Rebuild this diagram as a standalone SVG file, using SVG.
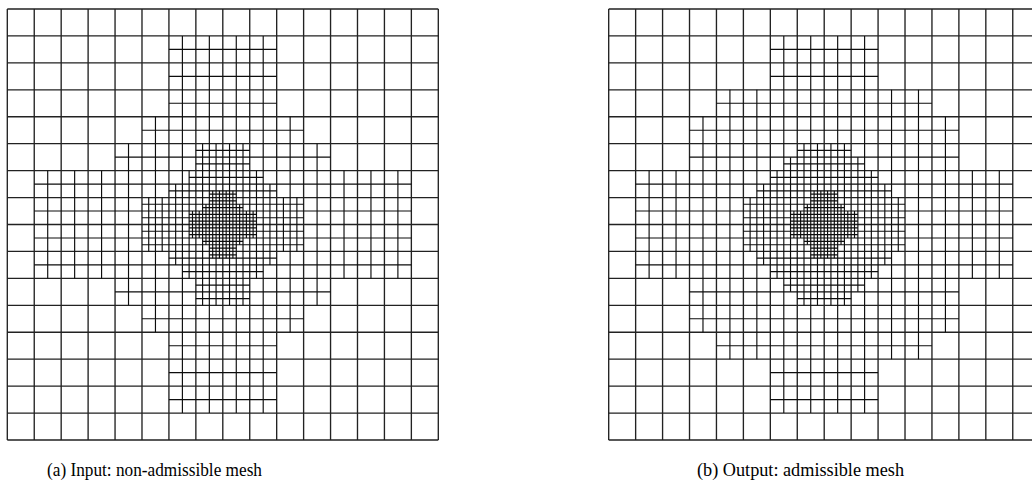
<svg xmlns="http://www.w3.org/2000/svg" width="1032" height="486" viewBox="0 0 1032 486">
<style>
.m{fill:none;stroke:#0d0d0d;stroke-width:1.15;vector-effect:non-scaling-stroke}
.b{stroke:#222;stroke-width:1.35}
text{font-family:"Liberation Serif","Times New Roman",serif;font-size:18px;fill:#000}
</style>
<defs>
<path id="L0" class="m b" d="M0 0V128M8 0V128M16 0V128M24 0V128M32 0V128M40 0V128M48 0V128M56 0V128M64 0V128M72 0V128M80 0V128M88 0V128M96 0V128M104 0V128M112 0V128M120 0V128M128 0V128M0 0H128M0 8H128M0 16H128M0 24H128M0 32H128M0 40H128M0 48H128M0 56H128M0 64H128M0 72H128M0 80H128M0 88H128M0 96H128M0 104H128M0 112H128M0 120H128M0 128H128"/>
<path id="L3" class="m" d="M60 55H68M60 57H68M58 59H70M54 61H74M54 63H74M54 65H74M54 67H74M58 69H70M60 71H68M60 73H68M55 60V68M57 60V68M59 58V70M61 54V74M63 54V74M65 54V74M67 54V74M69 58V70M71 60V68M73 60V68"/>
</defs>
<g id="mesh-a" transform="translate(7.3 9) scale(3.36719)">
<use href="#L0"/>
<path class="m" d="M48 12H80M48 20H80M48 28H80M40 36H88M32 44H96M8 52H120M8 60H120M8 68H120M8 76H120M32 84H96M40 92H88M48 100H80M48 108H80M48 116H80M12 48V80M20 48V80M28 48V80M36 40V88M44 32V96M52 8V120M60 8V120M68 8V120M76 8V120M84 32V96M92 40V88M100 48V80M108 48V80M116 48V80"/>
<path class="m" d="M56 42H72M56 46H72M54 50H76M48 54H80M40 58H88M40 62H88M40 66H88M40 70H88M48 74H80M52 78H76M56 82H72M56 86H72M42 56V72M46 56V72M50 52V76M54 48V80M58 40V88M62 40V88M66 40V88M70 40V88M74 48V80M78 52V76M82 56V72M86 56V72"/>
<use href="#L3"/>
</g>
<g id="mesh-b" transform="translate(608.7 9) scale(3.36719)">
<use href="#L0"/>
<path class="m" d="M48 12H80M48 20H80M32 28H96M24 36H104M24 44H104M8 52H120M8 60H120M8 68H120M8 76H120M24 84H104M24 92H104M32 100H96M48 108H80M48 116H80M12 48V80M20 48V80M28 32V96M36 24V104M44 24V104M52 8V120M60 8V120M68 8V120M76 8V120M84 24V104M92 24V104M100 32V96M108 48V80M116 48V80"/>
<path class="m" d="M56 42H72M52 46H76M48 50H80M44 54H84M40 58H88M40 62H88M40 66H88M40 70H88M44 74H84M48 78H80M52 82H76M56 86H72M42 56V72M46 52V76M50 48V80M54 44V84M58 40V88M62 40V88M66 40V88M70 40V88M74 44V84M78 48V80M82 52V76M86 56V72"/>
<use href="#L3"/>
</g>
<g id="caption-a"><text x="154.5" y="476" text-anchor="middle" textLength="215" lengthAdjust="spacingAndGlyphs">(a) Input: non-admissible mesh</text></g>
<g id="caption-b"><text x="800.5" y="476" text-anchor="middle" textLength="207" lengthAdjust="spacingAndGlyphs">(b) Output: admissible mesh</text></g>
</svg>
